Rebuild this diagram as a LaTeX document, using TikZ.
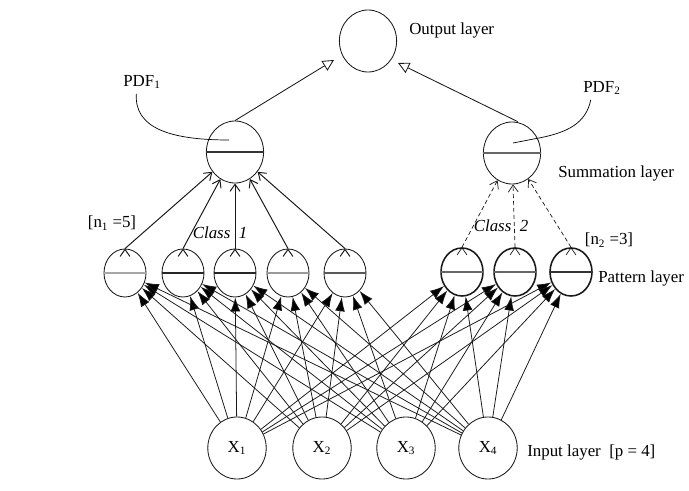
\documentclass[tikz,border=0pt]{standalone}
\usepackage{fontspec}
\setmainfont{Liberation Serif}
\usetikzlibrary{shapes.geometric,arrows.meta}
\begin{document}
\begin{tikzpicture}[x=0.025cm,y=-0.025cm,font=\fontsize{12}{14}\selectfont]
        \tikzstyle{neuron}=[ellipse,draw=black!90,line width=0.6pt,inner sep=0pt,minimum width=1.43cm,minimum height=1.55cm]
        \tikzstyle{pnode}=[neuron,minimum width=1.05cm,minimum height=1.2cm]
        \tikzstyle{pnodeb}=[pnode,line width=1.1pt]
        \tikzstyle{layertext}=[anchor=west,inner sep=0pt]
        \tikzstyle{inedge}=[draw=black!90,line width=0.55pt,-{Latex[length=10pt,width=7pt]}]
        \tikzstyle{sumedge}=[draw=black!90,line width=0.7pt,-{Straight Barb[length=5pt,width=7pt]}]
        \tikzstyle{sumedgeb}=[sumedge,densely dashed,line width=0.5pt]
        \tikzstyle{outedge}=[draw=black!90,line width=0.6pt,-{Triangle[open,length=8pt,width=8pt]}]
        \tikzstyle{divider}=[line width=1pt]

        \useasboundingbox (0,0) rectangle (689,491);

        % output and summation layer
        \node [neuron] (out) at (368,41) {};
        \node [neuron] (s1) at (235,152) {};
        \node [neuron] (s2) at (512,153) {};

        % pattern layer
        \node [pnode] (p1) at (125,273) {};
        \node [pnode] (p2) at (183,273) {};
        \node [pnode] (p3) at (235,273) {};
        \node [pnode] (p4) at (288,273) {};
        \node [pnode] (p5) at (345,273) {};
        \node [pnodeb] (p6) at (462,272) {};
        \node [pnodeb] (p7) at (515,272) {};
        \node [pnodeb] (p8) at (571,272) {};

        % input layer
        \node [neuron,minimum width=1.46cm] (x1) at (237,448) {X\textsubscript{1}};
        \node [neuron,minimum width=1.46cm] (x2) at (322,448) {X\textsubscript{2}};
        \node [neuron,minimum width=1.46cm] (x3) at (406,448) {X\textsubscript{3}};
        \node [neuron,minimum width=1.46cm] (x4) at (488,448) {X\textsubscript{4}};

        % texts
        \node [layertext] (tout) at (409,30) {Output layer};
        \node [layertext] (tsum) at (558,173) {Summation layer};
        \node [layertext] (tpat) at (598,278) {Pattern layer};
        \node [layertext] (tin) at (527,452) {Input layer\ \ [p = 4]};
        \node (pdf1) at (142,82) {PDF\textsubscript{1}};
        \node (pdf2) at (602,88) {PDF\textsubscript{2}};
        \node (n1) at (112,223) {[n\textsubscript{1} =5]};
        \node (n2) at (609,240) {[n\textsubscript{2} =3]};
        \node (c1) at (220,233) {\textit{Class\ \ 1}};
        \node (c2) at (501,226) {\textit{Class\ \ 2}};

        % dividers
        \draw [divider,black!80] (s1.west) -- (s1.east);
        \draw [divider,black!60] (s2.west) -- (s2.east);
        \draw [divider,black!35] (p1.west) -- (p1.east);
        \draw [divider,black!85] (p2.west) -- (p2.east);
        \draw [divider,black!85] (p3.west) -- (p3.east);
        \draw [divider,black!40] (p4.west) -- (p4.east);
        \draw [divider,black!65] (p5.west) -- (p5.east);
        \draw [divider,black!60] (p6.west) -- (p6.east);
        \draw [divider,black!60] (p7.west) -- (p7.east);
        \draw [divider,black!80] (p8.west) -- (p8.east);

        % PDF pointers
        \coordinate (e1) at (229,140);
        \coordinate (e2) at (513,143);
        \draw [line width=0.5pt] ([xshift=-4pt]pdf1.south) .. controls (134,128) and (170,140) .. (e1);
        \draw [line width=0.5pt] ([xshift=-8pt]pdf2.south) .. controls (586,124) and (566,132) .. (544,137) -- (e2);

        % summation to output
        \coordinate (t1) at (334,60);
        \coordinate (t2) at (398,63);
        \draw [outedge] (s1.north) -- (t1);
        \draw [outedge] ([xshift=4pt]s2.north) -- (t2);

        % pattern to summation
        \path [sumedge] (p1.north) edge (s1);
        \path [sumedge] (p2.north) edge (s1);
        \path [sumedge] (p3.north) edge (s1);
        \path [sumedge] (p4.north) edge (s1);
        \path [sumedge] (p5.north) edge (s1);
        \path [sumedgeb] (p6.north) edge (s2);
        \path [sumedgeb] (p7.north) edge (s2);
        \path [sumedgeb] (p8.north) edge (s2);

        % input to pattern
        \path [inedge] (x1) edge (p1) edge (p2) edge (p3) edge (p4) edge (p5) edge (p6) edge (p7) edge (p8);
        \path [inedge] (x2) edge (p1) edge (p2) edge (p3) edge (p4) edge (p5) edge (p6) edge (p7) edge (p8);
        \path [inedge] (x3) edge (p1) edge (p2) edge (p3) edge (p4) edge (p5) edge (p6) edge (p7) edge (p8);
        \path [inedge] (x4) edge (p1) edge (p2) edge (p3) edge (p4) edge (p5) edge (p6) edge (p7) edge (p8);
\end{tikzpicture}
\end{document}
